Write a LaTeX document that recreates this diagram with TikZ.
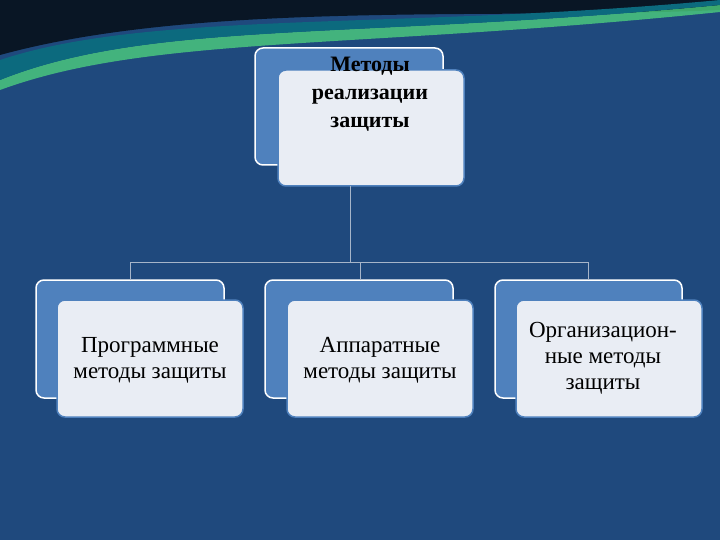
\documentclass[tikz,border=0pt]{standalone}
\usepackage{fontspec}
\setmainfont{Liberation Serif}
\definecolor{bg}{HTML}{1F497D}
\definecolor{bk}{HTML}{4F81BD}
\definecolor{fr}{HTML}{E9EDF4}
\definecolor{ln}{HTML}{A6B5C9}
\begin{document}
\begin{tikzpicture}[x=1pt,y=-1pt,
  backbox/.style={draw=white,line width=1.5pt,fill=bk,rounded corners=8pt},
  frontbox/.style={draw=bk,line width=1.5pt,fill=fr,rounded corners=8pt},
  lbl/.style={align=center,font=\fontsize{23}{26}\selectfont,text=black},
  conn/.style={draw=ln,line width=1pt}]
\fill[bg] (0,0) rectangle (720,540);
\useasboundingbox (0,0) rectangle (720,540);
% decorative top
\fill[black!70!bg] (0,0) -- (720,0) -- (720,10) .. controls (500,20) and (200,0) .. (0,55) -- cycle;
\fill[green!45!teal!70!white,opacity=0.8] (0,80) .. controls (150,20) and (350,40) .. (720,5) -- (720,12) .. controls (350,50) and (150,35) .. (0,90) -- cycle;
\fill[teal!60!bg] (0,60) .. controls (150,10) and (400,30) .. (720,0) -- (720,5) .. controls (350,40) and (150,20) .. (0,80) -- cycle;
% top box
\draw[backbox] (255,48) rectangle (443,165);
\draw[frontbox] (278,70) rectangle (464,186);
\node[lbl,font=\fontsize{22}{28}\selectfont\bfseries] (t) at (370,94) {Методы\\реализации\\защиты};
\coordinate (tb) at (350,186);
% bottom boxes
\draw[backbox] (36,280) rectangle (224,398);
\draw[frontbox] (57,300) rectangle (243,417);
\node[lbl] (a) at (150,360) {Программные\\методы защиты};
\draw[backbox] (265,280) rectangle (453,398);
\draw[frontbox] (287,300) rectangle (473,417);
\node[lbl] (b) at (380,360) {Аппаратные\\методы защиты};
\draw[backbox] (495,280) rectangle (682,398);
\draw[frontbox] (516,300) rectangle (702,417);
\node[lbl] (c) at (603,358) {Организацион-\\ные методы\\защиты};
\coordinate (ta) at (130,280);
\coordinate (tbm) at (360,280);
\coordinate (tc) at (588,280);
\draw[conn] (tb) -- (350,262) -| (ta);
\draw[conn] (350,262) -| (tbm);
\draw[conn] (350,262) -| (tc);
\end{tikzpicture}
\end{document}
